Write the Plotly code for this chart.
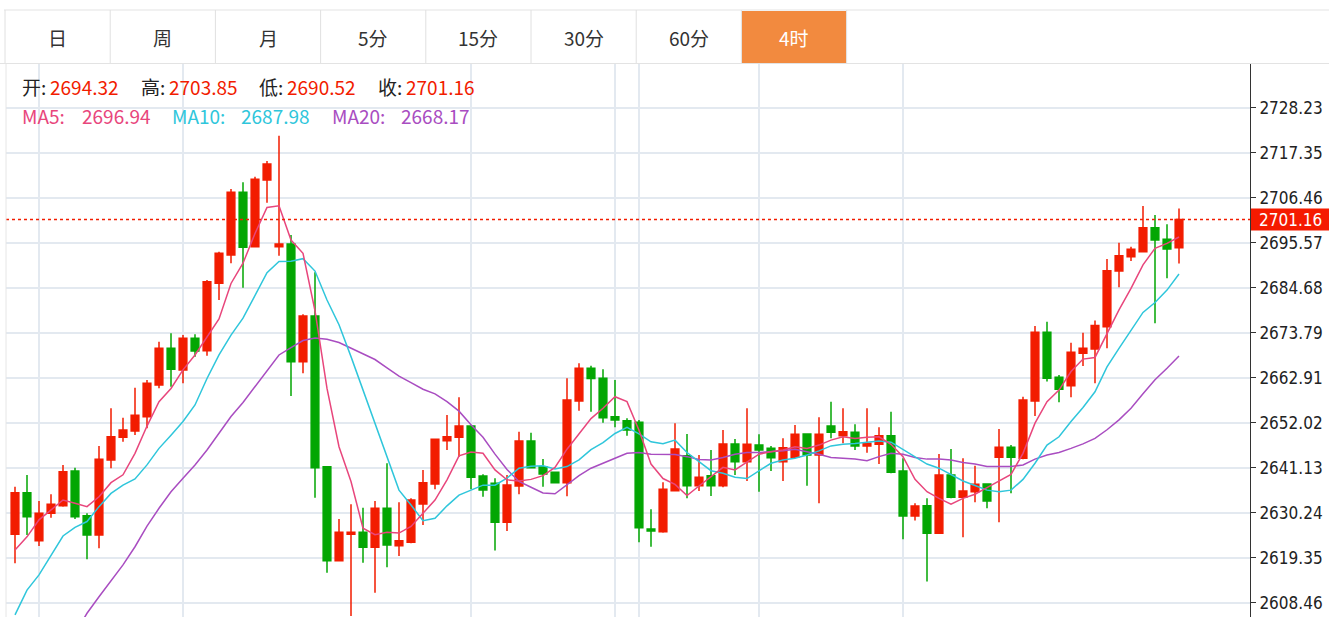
import plotly.graph_objects as go

# ---------------- data ----------------
tab_labels = ["日", "周", "月", "5分", "15分", "30分", "60分", "4时"]
active_tab = "4时"

open_ = [2625.00, 2635.08, 2623.47, 2630.08, 2631.94, 2640.33, 2629.52, 2624.84, 2642.99, 2648.47,
         2650.00, 2653.47, 2661.13, 2670.00, 2664.76, 2672.42, 2669.44, 2685.73, 2692.59, 2707.75,
         2694.60, 2710.73, 2694.60, 2695.25, 2666.78, 2677.83, 2641.38, 2618.64, 2625.01, 2625.49,
         2621.86, 2631.30, 2622.26, 2623.07, 2632.35, 2637.18, 2647.67, 2648.48, 2651.22, 2639.12,
         2637.35, 2627.91, 2636.70, 2647.59, 2641.38, 2640.01, 2637.51, 2657.27, 2665.17, 2662.75,
         2653.47, 2652.50, 2652.10, 2626.29, 2625.65, 2635.57, 2644.03, 2636.78, 2639.20, 2636.78,
         2646.86, 2642.58, 2646.62, 2645.81, 2642.58, 2643.63, 2649.28, 2644.20, 2651.21, 2648.87,
         2649.68, 2646.37, 2646.78, 2648.87, 2640.33, 2629.44, 2631.94, 2625.25, 2639.36, 2633.96,
         2635.33, 2637.19, 2643.64, 2646.06, 2643.40, 2657.27, 2673.88, 2662.99, 2660.98, 2668.80,
         2669.85, 2675.25, 2688.72, 2692.19, 2693.40, 2699.21, 2696.38, 2694.32]
high = [2636.53, 2639.36, 2633.07, 2634.68, 2641.78, 2641.13, 2630.08, 2646.37, 2655.49, 2653.23,
        2660.49, 2662.34, 2671.62, 2673.63, 2673.23, 2673.39, 2686.54, 2693.39, 2708.56, 2710.17,
        2711.54, 2715.33, 2721.46, 2697.43, 2678.23, 2688.40, 2641.38, 2628.72, 2632.26, 2631.46,
        2633.07, 2642.19, 2632.75, 2633.72, 2640.57, 2648.20, 2653.88, 2658.15, 2651.40, 2639.52,
        2638.56, 2639.36, 2649.85, 2649.60, 2643.23, 2640.20, 2662.75, 2666.38, 2665.82, 2664.92,
        2662.34, 2653.07, 2652.66, 2631.05, 2637.58, 2651.86, 2649.28, 2644.20, 2645.41, 2650.24,
        2648.07, 2655.49, 2649.20, 2646.37, 2648.23, 2651.45, 2649.28, 2653.31, 2657.10, 2655.49,
        2651.62, 2655.49, 2650.89, 2654.68, 2643.40, 2632.51, 2633.72, 2644.45, 2645.65, 2643.40,
        2641.62, 2637.35, 2650.49, 2646.62, 2658.32, 2675.41, 2676.46, 2663.56, 2671.38, 2673.80,
        2676.71, 2691.63, 2695.58, 2694.61, 2704.45, 2702.27, 2700.01, 2703.85]
low = [2617.98, 2624.84, 2622.18, 2629.03, 2631.70, 2628.71, 2618.95, 2621.61, 2640.97, 2647.42,
       2649.04, 2650.65, 2660.33, 2660.73, 2661.54, 2667.99, 2668.23, 2681.70, 2690.57, 2684.68,
       2694.60, 2705.25, 2692.43, 2658.47, 2663.96, 2633.87, 2615.73, 2618.64, 2605.25, 2618.15,
       2610.89, 2617.02, 2619.76, 2622.83, 2627.26, 2635.90, 2645.41, 2643.80, 2635.90, 2634.12,
       2621.06, 2625.81, 2634.69, 2641.00, 2636.54, 2637.30, 2634.20, 2654.93, 2654.69, 2652.02,
       2650.89, 2648.87, 2623.06, 2622.02, 2625.40, 2635.57, 2633.71, 2635.49, 2634.28, 2636.37,
       2639.36, 2637.90, 2635.32, 2640.32, 2637.90, 2643.63, 2636.78, 2632.50, 2648.23, 2647.02,
       2645.41, 2644.76, 2642.02, 2639.76, 2623.80, 2628.32, 2613.56, 2625.25, 2633.72, 2624.28,
       2632.75, 2631.30, 2627.91, 2634.93, 2643.15, 2653.64, 2661.95, 2656.95, 2658.16, 2665.74,
       2661.54, 2670.01, 2684.77, 2691.14, 2693.40, 2676.06, 2686.95, 2690.52]
close = [2635.08, 2629.27, 2630.08, 2632.26, 2640.16, 2629.27, 2624.84, 2643.15, 2648.63, 2650.25,
         2653.79, 2661.54, 2670.00, 2664.92, 2672.42, 2669.36, 2686.13, 2692.99, 2707.75, 2694.44,
         2710.89, 2714.60, 2695.25, 2666.78, 2677.83, 2641.13, 2618.64, 2625.49, 2625.49, 2621.86,
         2631.30, 2622.43, 2623.47, 2633.31, 2637.51, 2647.99, 2648.64, 2651.22, 2638.80, 2635.73,
         2627.91, 2636.94, 2647.59, 2641.14, 2639.60, 2637.51, 2657.51, 2665.17, 2662.70, 2653.23,
         2652.66, 2650.24, 2626.61, 2625.81, 2635.89, 2645.65, 2636.78, 2638.79, 2636.78, 2646.86,
         2642.58, 2646.78, 2645.41, 2643.55, 2645.97, 2649.20, 2644.20, 2649.20, 2649.68, 2649.84,
         2646.37, 2647.02, 2648.87, 2640.00, 2629.44, 2631.86, 2625.25, 2639.36, 2633.96, 2635.49,
         2637.11, 2633.07, 2646.06, 2643.64, 2657.51, 2673.88, 2662.75, 2660.09, 2669.04, 2670.01,
         2675.50, 2688.80, 2692.43, 2693.96, 2699.21, 2696.22, 2694.04, 2701.16]

ma5 = [2621.2, 2624.4, 2628.5, 2630.9, 2633.3, 2632.5, 2631.7, 2634.1, 2637.5, 2639.4,
       2644.6, 2651.2, 2657.1, 2660.3, 2664.8, 2668.4, 2672.8, 2677.1, 2685.7, 2690.6,
       2697.8, 2704.1, 2704.5, 2696.2, 2693.0, 2679.1, 2660.3, 2646.2, 2637.8, 2626.5,
       2624.9, 2625.5, 2625.3, 2626.9, 2630.1, 2633.3, 2638.2, 2644.0, 2644.9, 2644.6,
       2640.6, 2638.2, 2637.9, 2638.3, 2639.2, 2641.2, 2645.6, 2649.2, 2653.0, 2655.5,
       2658.3, 2657.1, 2650.2, 2642.0, 2638.5, 2637.1, 2634.4, 2636.7, 2638.9, 2641.2,
       2640.6, 2642.6, 2644.4, 2645.0, 2645.4, 2646.2, 2645.8, 2646.6, 2647.8, 2648.6,
       2648.2, 2648.5, 2648.6, 2646.8, 2643.8, 2638.3, 2635.3, 2633.7, 2632.3, 2633.7,
       2634.7, 2636.3, 2637.8, 2639.5, 2644.6, 2651.9, 2657.1, 2659.9, 2664.4, 2667.4,
       2667.8, 2673.6, 2679.3, 2684.5, 2690.2, 2694.2, 2695.4, 2696.94]
ma10 = [2605.5, 2611.5, 2615.2, 2620.0, 2624.6, 2626.7, 2628.1, 2631.7, 2634.9, 2636.9,
        2638.4, 2641.8, 2645.8, 2649.0, 2652.3, 2656.3, 2662.7, 2668.4, 2673.2, 2677.3,
        2682.9, 2688.3, 2691.0, 2691.1, 2691.7, 2688.7, 2681.7, 2675.7, 2668.0, 2659.9,
        2651.9, 2643.8, 2635.7, 2632.1, 2628.3, 2628.9, 2631.9, 2634.5, 2635.7, 2636.9,
        2636.9, 2638.6, 2641.0, 2641.5, 2641.6, 2640.8, 2641.4, 2643.0, 2645.5, 2647.2,
        2649.4, 2650.9, 2649.3, 2647.4, 2646.9, 2647.8, 2644.8, 2642.6, 2640.4, 2639.8,
        2638.8, 2638.5, 2640.4, 2642.2, 2643.0, 2643.4, 2644.2, 2645.2, 2646.4, 2646.8,
        2647.0, 2647.3, 2647.6, 2647.3, 2645.6, 2643.8, 2642.0, 2641.0, 2639.4, 2637.9,
        2636.8, 2635.7, 2635.3, 2635.7, 2638.3, 2642.2, 2646.6, 2648.6, 2652.3, 2655.7,
        2659.5, 2665.5, 2670.0, 2674.4, 2678.7, 2681.1, 2684.1, 2687.98]
ma20 = [None, None, None, None, None, 2601.0, 2605.9, 2609.9, 2613.7, 2617.6,
        2622.0, 2627.0, 2631.3, 2635.3, 2638.6, 2641.8, 2645.4, 2649.4, 2653.5, 2656.9,
        2660.7, 2664.6, 2668.4, 2670.2, 2671.9, 2672.5, 2672.2, 2671.4, 2670.0, 2668.6,
        2667.3, 2665.3, 2663.3, 2661.7, 2660.1, 2659.0, 2657.1, 2654.8, 2651.5, 2648.5,
        2644.4, 2640.7, 2637.8, 2636.4, 2635.0, 2634.8, 2637.0, 2639.2, 2641.0, 2642.3,
        2643.4, 2644.6, 2644.8, 2644.4, 2644.4, 2644.3, 2643.8, 2643.1, 2643.0, 2643.6,
        2644.4, 2644.8, 2644.8, 2645.0, 2645.2, 2645.6, 2645.0, 2644.4, 2643.6, 2643.4,
        2643.2, 2642.8, 2643.8, 2644.6, 2644.4, 2643.6, 2643.2, 2643.2, 2643.0, 2642.4,
        2642.0, 2641.4, 2641.4, 2641.4, 2641.8, 2643.2, 2644.2, 2644.8, 2645.8, 2646.9,
        2648.2, 2650.3, 2652.7, 2655.5, 2659.0, 2662.4, 2665.2, 2668.17]

ytick_labels = ["2608.46", "2619.35", "2630.24", "2641.13", "2652.02", "2662.91",
                "2673.79", "2684.68", "2695.57", "2706.46", "2717.35", "2728.23"]
# bar indices where the session (vertical) grid lines fall
vgrid_bars = [2, 14, 38, 50, 52, 62, 74]

# ---------------- styling / layout ----------------
W, H = 1329, 617
ML, MR, MT, MB = 6, 79, 64, 0
PW, PH = W - ML - MR, H - MT - MB

RED = "#f21c00"
GREEN = "#03a603"
C_MA5 = "#e8467c"
C_MA10 = "#2fc6db"
C_MA20 = "#a94dc1"
GRID = "#e3e9f0"
CN_FONT = "Noto Sans CJK SC, Microsoft YaHei, sans-serif"
AX_FONT = "DejaVu Sans Condensed, DejaVu Sans, sans-serif"
LEG_SIZE = 19


def px(xp):
    return (xp - ML) / PW


def py(yp):
    return (H - MB - yp) / PH


x = list(range(len(close)))

fig = go.Figure()
fig.add_trace(go.Candlestick(
    x=x, open=open_, high=high, low=low, close=close,
    increasing=dict(line=dict(color=RED, width=1.5), fillcolor=RED),
    decreasing=dict(line=dict(color=GREEN, width=1.5), fillcolor=GREEN),
    whiskerwidth=0, showlegend=False, hoverinfo="skip",
))
for vals, col in [(ma20, C_MA20), (ma10, C_MA10), (ma5, C_MA5)]:
    fig.add_trace(go.Scatter(x=x, y=vals, mode="lines", line=dict(color=col, width=1.5),
                             showlegend=False, hoverinfo="skip", connectgaps=False))

last = close[-1]
shapes = []
annotations = []

# current price dotted line
shapes.append(dict(type="line", xref="paper", yref="y", x0=0, x1=1, y0=last, y1=last,
                   line=dict(color=RED, width=1.5, dash="dot"), layer="above"))
# price tag on axis
tag_half = 11 / (PH / (2738.8 - 2605.0))
shapes.append(dict(type="rect", xref="paper", yref="y", x0=px(1251), x1=px(1329),
                   y0=last - tag_half, y1=last + tag_half, fillcolor="#f51a00",
                   line=dict(width=0), layer="above"))
annotations.append(dict(xref="paper", yref="y", x=px(1258), y=last, xanchor="left",
                        yanchor="middle", text=f"{last:.2f}", showarrow=False, borderpad=0,
                        font=dict(family=AX_FONT, size=17, color="white")))

# plot frame: left border and top line
shapes.append(dict(type="line", xref="paper", yref="paper", x0=0, x1=0, y0=0, y1=1,
                   line=dict(color="#e6e6e6", width=1)))
shapes.append(dict(type="line", xref="paper", yref="paper", x0=px(0), x1=px(W), y0=py(63.5), y1=py(63.5),
                   line=dict(color="#e3e3e3", width=1)))
shapes.append(dict(type="line", xref="paper", yref="paper", x0=px(4), x1=px(W), y0=py(10), y1=py(10),
                   line=dict(color="#e3e3e3", width=1)))

# tab bar
tab_left, tab_w = 5, 105.2
for k, lab in enumerate(tab_labels):
    x0 = tab_left + k * tab_w
    x1 = x0 + tab_w
    active = lab == active_tab
    if active:
        shapes.append(dict(type="rect", xref="paper", yref="paper", x0=px(x0 + 0.5), x1=px(x1 - 0.5),
                           y0=py(63), y1=py(11), fillcolor="#f28a3f", line=dict(width=0)))
    shapes.append(dict(type="line", xref="paper", yref="paper", x0=px(x0), x1=px(x0),
                       y0=py(63), y1=py(10), line=dict(color="#e0e0e0", width=1)))
    annotations.append(dict(xref="paper", yref="paper", x=px((x0 + x1) / 2), y=py(37.5),
                            xanchor="center", yanchor="middle", text=lab, showarrow=False,
                            font=dict(family=CN_FONT, size=19, color="white" if active else "#333333")))
shapes.append(dict(type="line", xref="paper", yref="paper", x0=px(tab_left + len(tab_labels) * tab_w),
                   x1=px(tab_left + len(tab_labels) * tab_w), y0=py(63), y1=py(10),
                   line=dict(color="#e0e0e0", width=1)))

# OHLC / MA readout
ROW1_Y, ROW2_Y = 87, 115.5
row1 = [("开:", open_[-1], 21, 49), ("高:", high[-1], 140, 168),
        ("低:", low[-1], 258, 286), ("收:", close[-1], 377, 405)]
for lab, val, xl, xv in row1:
    annotations.append(dict(xref="paper", yref="paper", x=px(xl), y=py(ROW1_Y), xanchor="left",
                            yanchor="middle", text=lab, showarrow=False, borderpad=0,
                            font=dict(family=CN_FONT, size=LEG_SIZE, color="#222222")))
    annotations.append(dict(xref="paper", yref="paper", x=px(xv), y=py(ROW1_Y), xanchor="left",
                            yanchor="middle", text=f"{val:.2f}", showarrow=False, borderpad=0,
                            font=dict(family=CN_FONT, size=LEG_SIZE, color=RED)))
row2 = [("MA5:", ma5[-1], C_MA5, 21, 81), ("MA10:", ma10[-1], C_MA10, 171, 240),
        ("MA20:", ma20[-1], C_MA20, 331, 400)]
for lab, val, col, xl, xv in row2:
    annotations.append(dict(xref="paper", yref="paper", x=px(xl), y=py(ROW2_Y), xanchor="left",
                            yanchor="middle", text=lab, showarrow=False, borderpad=0,
                            font=dict(family=CN_FONT, size=LEG_SIZE, color=col)))
    annotations.append(dict(xref="paper", yref="paper", x=px(xv), y=py(ROW2_Y), xanchor="left",
                            yanchor="middle", text=f"{val:.2f}", showarrow=False, borderpad=0,
                            font=dict(family=CN_FONT, size=LEG_SIZE, color=col)))

fig.update_layout(
    width=W, height=H, margin=dict(l=ML, r=MR, t=MT, b=MB, pad=0),
    paper_bgcolor="white", plot_bgcolor="white",
    shapes=shapes, annotations=annotations, showlegend=False,
    boxgap=0.2, boxgroupgap=0.2,
    xaxis=dict(range=[-0.75, -0.75 + PW / 12.0], tickvals=vgrid_bars, showticklabels=False,
               showgrid=True, gridcolor=GRID, gridwidth=1.5, zeroline=False, showline=False,
               ticks="", rangeslider=dict(visible=False), fixedrange=True),
    yaxis=dict(side="right", range=[2605.0, 2738.8],
               tickvals=[float(t) for t in ytick_labels], ticktext=ytick_labels,
               showgrid=True, gridcolor=GRID, gridwidth=1.5, zeroline=False,
               showline=True, linecolor="#333333", linewidth=1,
               ticks="outside", ticklen=5, tickcolor="#333333", tickwidth=1,
               tickfont=dict(family=AX_FONT, size=17, color="#222222"), fixedrange=True),
)

fig.write_html("out.html")
